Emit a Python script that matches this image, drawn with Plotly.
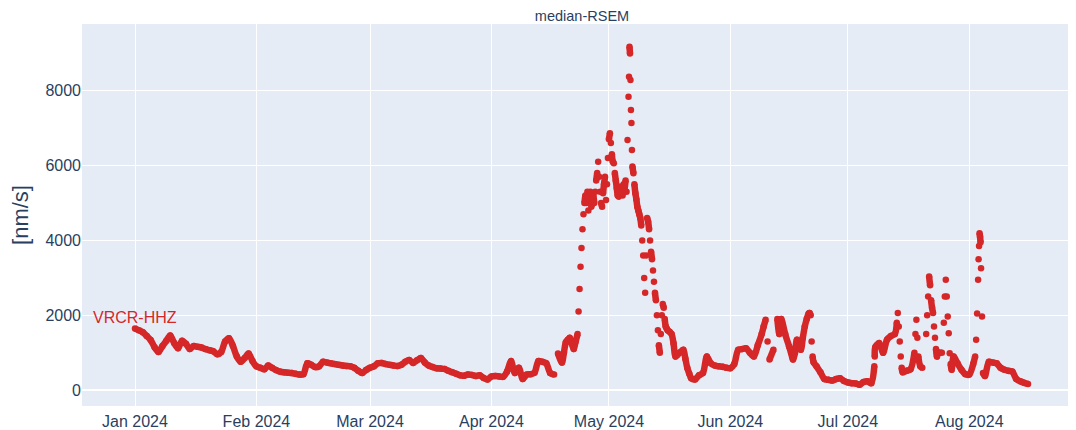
import pandas as pd
import plotly.graph_objects as go

# ---------------- data ----------------
start_date = "2024-01-01"

# one value per day, 2024-01-01 .. 2024-08-16 (nm/s)
jan_values = [1650, 1600, 1550, 1450, 1340, 1150, 1020, 1180, 1320, 1460,
              1260, 1120, 1320, 1240, 1100, 1180, 1160, 1140, 1100, 1070,
              1040, 960, 1020, 1300, 1390, 1180, 900, 760, 860, 980, 780]
feb_values = [640, 600, 560, 660, 600, 540, 500, 480, 470, 460,
              440, 420, 430, 720, 680, 620, 640, 760, 740, 720,
              700, 680, 660, 650, 640, 600, 520, 460, 540]
mar_values = [600, 640, 720, 730, 700, 680, 660, 650, 680, 760,
              810, 730, 800, 860, 740, 660, 620, 590, 580, 570,
              520, 480, 440, 400, 390, 420, 410, 380, 400, 330, 290]
apr_values = [370, 380, 370, 360, 500, 780, 460, 600, 300, 420,
              430, 470, 780, 760, 720, 460, 420, 980, 740, 1280,
              1400, 1100, 1500, 3800, 5200, 5100, 5200, 5800, 5000, 5700]
may_values = [6700, 6100, 5400, 5435, 5400, 7835, 5970, 5100, 4600, 3000,
              4500, 3500, 2400, 1000, 2200, 1600, 1500, 900, 1000, 1080,
              600, 320, 290, 400, 460, 900, 720, 660, 640, 630, 600]
jun_values = [590, 700, 1080, 1100, 1120, 1000, 900, 1200, 1500, 1880,
              820, 1080, 1900, 1900, 1500, 1170, 820, 1350, 1080, 1700,
              2050, 900, 640, 480, 300, 280, 260, 300, 320, 250]
jul_values = [210, 190, 180, 150, 220, 240, 190, 1150, 1260, 1000,
              1350, 1450, 1500, 1700, 480, 520, 560, 1000, 900, 600,
              1500, 2800, 1700, 1000, 1000, 2950, 990, 900, 720, 550, 430]
aug_values = [420, 700, 2050, 3260, 380, 760, 740, 720, 600, 550,
              520, 500, 300, 240, 200, 170]

# additional intraday samples during the fast-changing episodes
extra_times = [
    "2024-04-19 12:00", "2024-04-20 12:00", "2024-04-21 12:00",
    "2024-04-22 12:00",
    "2024-04-23 06:00", "2024-04-23 12:00", "2024-04-23 18:00",
    "2024-04-24 06:00", "2024-04-24 12:00", "2024-04-24 18:00",
    "2024-04-25 06:00", "2024-04-25 12:00", "2024-04-25 18:00",
    "2024-04-26 06:00", "2024-04-26 12:00", "2024-04-26 18:00",
    "2024-04-27 06:00", "2024-04-27 12:00", "2024-04-27 18:00",
    "2024-04-28 06:00", "2024-04-28 12:00", "2024-04-28 18:00",
    "2024-04-29 06:00", "2024-04-29 12:00", "2024-04-29 18:00",
    "2024-04-30 06:00", "2024-04-30 12:00", "2024-04-30 18:00",
    "2024-05-01 06:00", "2024-05-01 12:00", "2024-05-01 18:00",
    "2024-05-02 06:00", "2024-05-02 12:00", "2024-05-02 18:00",
    "2024-05-03 06:00", "2024-05-03 12:00", "2024-05-03 18:00",
    "2024-05-04 06:00", "2024-05-04 12:00", "2024-05-04 18:00",
    "2024-05-05 06:00", "2024-05-05 12:00", "2024-05-05 18:00",
    "2024-05-06 03:00", "2024-05-06 06:00", "2024-05-06 09:00",
    "2024-05-06 12:00", "2024-05-06 15:00", "2024-05-06 18:00",
    "2024-05-06 21:00",
    "2024-05-07 06:00", "2024-05-07 12:00", "2024-05-07 18:00",
    "2024-05-08 06:00", "2024-05-08 12:00", "2024-05-08 18:00",
    "2024-05-09 06:00", "2024-05-09 12:00", "2024-05-09 18:00",
    "2024-05-10 06:00", "2024-05-10 12:00", "2024-05-10 18:00",
    "2024-05-11 06:00", "2024-05-11 12:00", "2024-05-11 18:00",
    "2024-05-12 06:00", "2024-05-12 12:00", "2024-05-12 18:00",
    "2024-05-13 06:00", "2024-05-13 12:00", "2024-05-13 18:00",
    "2024-05-14 06:00", "2024-05-14 12:00", "2024-05-14 18:00",
    "2024-05-15 06:00", "2024-05-15 12:00", "2024-05-15 18:00",
    "2024-05-16 12:00", "2024-05-17 12:00", "2024-05-18 12:00",
    "2024-05-20 12:00", "2024-05-21 12:00",
    "2024-06-09 12:00", "2024-06-10 12:00", "2024-06-13 12:00",
    "2024-06-16 12:00", "2024-06-17 12:00", "2024-06-19 12:00",
    "2024-06-20 12:00",
    "2024-06-21 06:00", "2024-06-21 12:00", "2024-06-21 18:00",
    "2024-06-22 06:00",
    "2024-07-07 18:00", "2024-07-07 21:00",
    "2024-07-13 12:00", "2024-07-13 18:00",
    "2024-07-14 06:00", "2024-07-14 12:00", "2024-07-14 18:00",
    "2024-07-18 06:00", "2024-07-18 12:00", "2024-07-18 18:00",
    "2024-07-19 12:00",
    "2024-07-21 06:00", "2024-07-21 12:00", "2024-07-21 18:00",
    "2024-07-22 06:00", "2024-07-22 12:00", "2024-07-22 18:00",
    "2024-07-23 06:00", "2024-07-23 12:00", "2024-07-23 18:00",
    "2024-07-25 12:00", "2024-07-25 18:00",
    "2024-07-26 06:00", "2024-07-26 12:00", "2024-07-26 18:00",
    "2024-07-27 06:00", "2024-07-27 12:00",
    "2024-08-02 12:00", "2024-08-02 18:00",
    "2024-08-03 06:00", "2024-08-03 09:00", "2024-08-03 12:00",
    "2024-08-03 15:00", "2024-08-03 18:00", "2024-08-03 21:00",
    "2024-08-04 06:00", "2024-08-04 12:00",
]
extra_values = [
    1000, 1350, 1250,
    1300,
    2100, 2700, 3300,
    4300, 4700, 5000,
    5000, 5300, 4800,
    5300, 4900, 5000,
    5000, 5300, 5600,
    6100, 5700, 5300,
    4900, 5260, 5500,
    5080, 5500, 6200,
    6860, 6600, 6300,
    6060, 5800, 5600,
    5200, 5170, 5300,
    5300, 5200, 5500,
    5600, 5300, 6680,
    8370, 9170, 8990,
    8280, 7480, 7130,
    6410,
    5790, 5500, 5260,
    4900, 4800, 4700,
    4400, 4000, 3600,
    2600, 3600, 4600,
    4300, 4000, 3700,
    3200, 2900, 2600,
    2000, 1600, 1200,
    1500, 2000, 2300,
    1900, 1700, 1650,
    1560, 1250, 950,
    850, 450,
    1700, 1300, 1500,
    1000, 1000, 1400,
    1900,
    2060, 2000, 1300,
    750,
    640, 900,
    1800, 2060,
    1300, 900, 600,
    1500, 1880, 1400,
    640,
    2000, 2500, 3035,
    2400, 2200, 2060,
    1400, 1100, 900,
    1800, 2500,
    2500, 1970, 1525,
    700, 550,
    900, 1350,
    2950, 3500, 3850,
    4190, 4100, 3950,
    1970, 460,
]

station_label = "VRCR-HHZ"
chart_title = "median-RSEM"
y_axis_title = "[nm/s]"
marker_color = "#d62728"

# ---------------- build series ----------------
daily_values = (jan_values + feb_values + mar_values + apr_values +
                may_values + jun_values + jul_values + aug_values)
daily_times = pd.date_range(start_date, periods=len(daily_values), freq="D")

df = pd.DataFrame({
    "time": list(daily_times) + list(pd.to_datetime(extra_times)),
    "value": daily_values + extra_values,
}).sort_values("time").reset_index(drop=True)

# continuous band: connect neighbouring samples only where the change is small
dv = df["value"].diff().abs().fillna(0)
dt_days = df["time"].diff().dt.total_seconds().fillna(86400) / 86400
gap = (dv > 450) | ((dt_days < 0.49) & (dv > 250))
band_x, band_v = [], []
for t, v, g in zip(df["time"], df["value"], gap):
    if g:
        band_x.append(None)
        band_v.append(None)
    band_x.append(t)
    band_v.append(v)

font_family = "Liberation Sans, Arial, Helvetica, sans-serif"

fig = go.Figure()
fig.add_trace(go.Scatter(
    x=band_x, y=band_v, mode="lines",
    line=dict(color=marker_color, width=6.5, shape="spline", smoothing=0.8),
    connectgaps=False, hoverinfo="skip", showlegend=False,
))
fig.add_trace(go.Scatter(
    x=df["time"], y=df["value"], mode="markers",
    marker=dict(color=marker_color, size=6.5, line=dict(width=0)),
    name=station_label, showlegend=False,
))

fig.add_annotation(
    x=df["time"].iloc[0], y=df["value"].iloc[0],
    text=station_label, showarrow=False, yanchor="bottom", xanchor="center",
    font=dict(color=marker_color, size=16, family=font_family),
)

fig.update_layout(
    template="plotly",
    width=1076, height=430,
    margin=dict(l=74, r=0, t=16, b=32, autoexpand=False),
    font=dict(family=font_family, color="#2a3f5f", size=16),
    title=dict(text=chart_title, x=574 / 1076, xanchor="center", xref="container",
               y=1 - 8 / 430, yanchor="middle", yref="container",
               font=dict(size=14.5, family=font_family, color="#2a3f5f")),
    showlegend=False,
)
fig.update_xaxes(
    type="date", automargin=False,
    range=["2023-12-18 11:15", "2024-08-30 07:00"],
    dtick="M1", tick0="2024-01-01", tickformat="%b %Y",
    tickfont=dict(size=16), ticklabelstandoff=4,
)
fig.update_yaxes(
    automargin=False,
    range=[-419, 9775], dtick=2000, tick0=0, tickformat="d",
    tickfont=dict(size=16),
    title=dict(text=y_axis_title, font=dict(size=22), standoff=14),
)

fig.write_html("out.html")
